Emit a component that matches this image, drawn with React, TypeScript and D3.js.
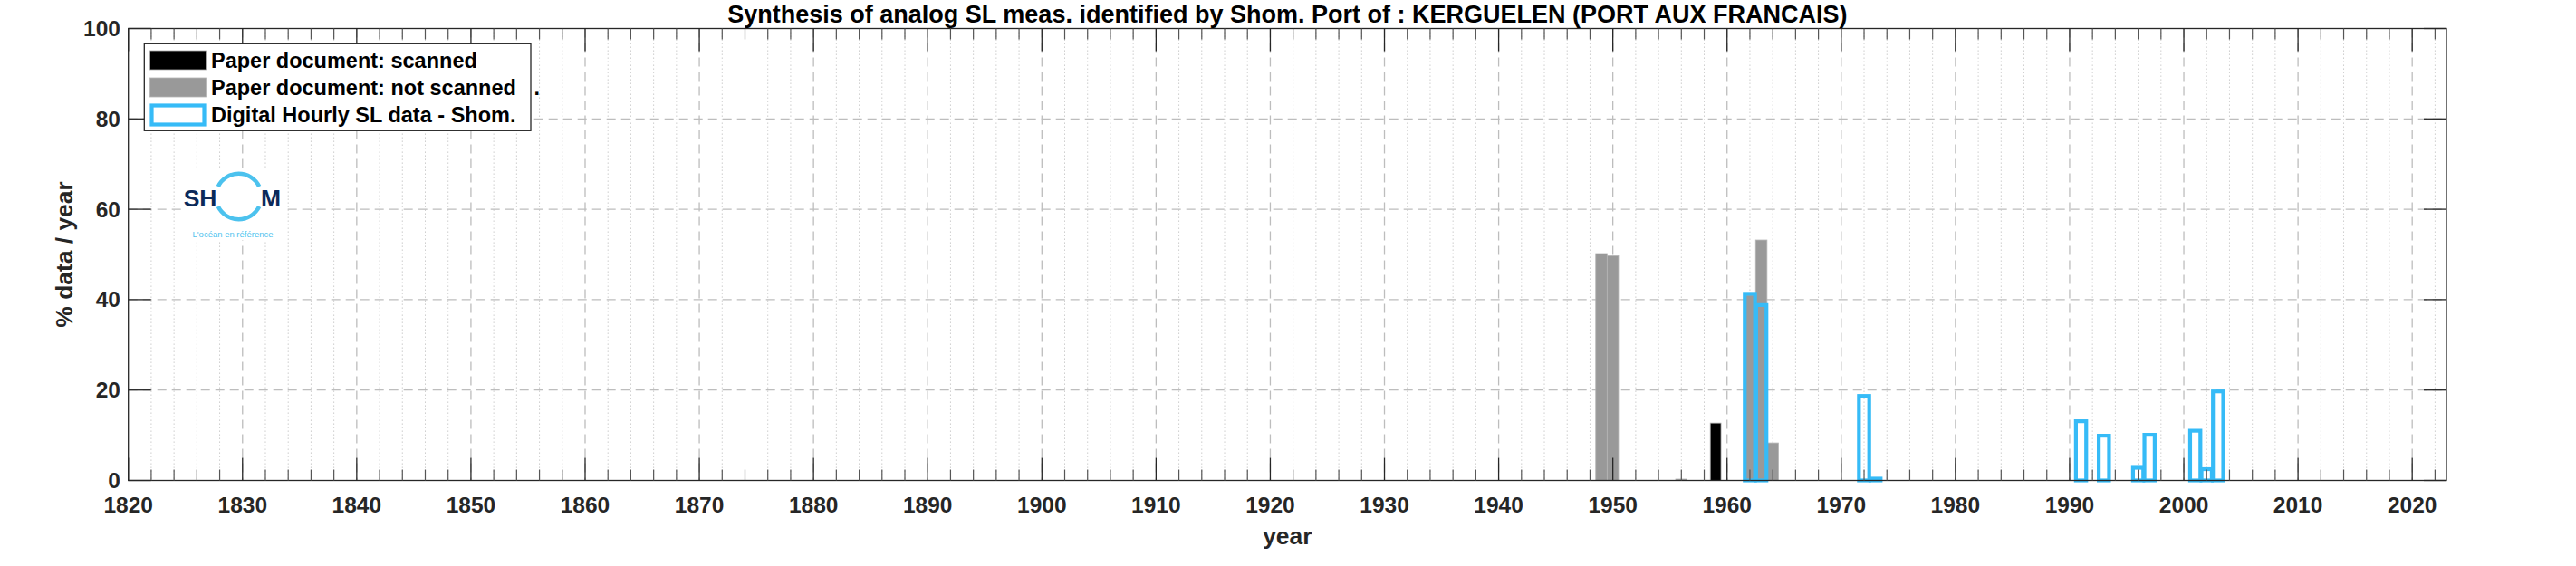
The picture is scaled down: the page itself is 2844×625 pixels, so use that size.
import React from "react";
import * as d3 from "d3";

const scannedYears = [1959];
const scannedValues = [12.7];

const notScannedYears = [1949, 1950, 1956, 1962, 1963, 1964];
const notScannedValues = [50.2, 49.7, 0.3, 41.0, 53.2, 8.3];

const digitalYears = [1962, 1963, 1972, 1973, 1991, 1993, 1996, 1997, 2001, 2002, 2003];
const digitalValues = [41.3, 38.8, 18.7, 0.4, 13.1, 9.9, 2.8, 10.1, 11.0, 2.5, 19.7];

const xMajorTicks = [1820, 1830, 1840, 1850, 1860, 1870, 1880, 1890, 1900, 1910, 1920, 1930, 1940, 1950, 1960, 1970, 1980, 1990, 2000, 2010, 2020];
const yMajorTicks = [0, 20, 40, 60, 80, 100];

const titleText = "Synthesis of analog SL meas. identified by Shom. Port of : KERGUELEN (PORT AUX FRANCAIS)";
const legendLabels = ["Paper document: scanned", "Paper document: not scanned   .", "Digital Hourly SL data - Shom."];

const W = 2844;
const H = 625;
const L = 141.7, R = 2701, T = 31.5, B = 530.5;
const FONT = "'Liberation Sans', Arial, Helvetica, sans-serif";
const TXT = "#262626";
const BLUE = "#36BBF7";
const GRAY = "#999999";

export default function App() {
  const x = d3.scaleLinear().domain([1820, 2023]).range([L, R]);
  const y = d3.scaleLinear().domain([0, 100]).range([B, T]);
  const yearW = x(1821) - x(1820);

  const minorX = d3.range(1822, 2023, 2).filter((v) => v % 10 !== 0);

  const ringArc = d3.arc();
  const cx = 263.5, cy = 217;
  const topArc = ringArc({ innerRadius: 23, outerRadius: 27.5, startAngle: (-64 * Math.PI) / 180, endAngle: (64 * Math.PI) / 180 }) as string;
  const botArc = ringArc({ innerRadius: 23, outerRadius: 27.5, startAngle: (116 * Math.PI) / 180, endAngle: (244 * Math.PI) / 180 }) as string;

  return (
    <div style={{ position: "absolute", left: 0, top: 0 }}>
      <svg width={W} height={H} style={{ display: "block", background: "#fff" }} fontFamily={FONT}>
        <rect x={0} y={0} width={W} height={H} fill="#fff" />
        {/* minor grid */}
        {minorX.map((v) => (
          <line key={"mg" + v} x1={x(v)} x2={x(v)} y1={T} y2={B} stroke="#c4c4c4" strokeWidth={1} strokeDasharray="1.3,2.7" />
        ))}
        {/* major grid */}
        {xMajorTicks.filter((v) => v !== 1820).map((v) => (
          <line key={"xg" + v} x1={x(v)} x2={x(v)} y1={T} y2={B} stroke="#bdbdbd" strokeWidth={1.3} strokeDasharray="10,6" />
        ))}
        {yMajorTicks.filter((v) => v !== 0 && v !== 100).map((v) => (
          <line key={"yg" + v} x1={L} x2={R} y1={y(v)} y2={y(v)} stroke="#bdbdbd" strokeWidth={1.3} strokeDasharray="10,6" />
        ))}

        {/* logo */}
        <rect x={200} y={187} width={115} height={78} fill="#fff" />
        <path d={topArc} transform={`translate(${cx},${cy})`} fill="#4cc2ee" />
        <path d={botArc} transform={`translate(${cx},${cy})`} fill="#4cc2ee" />
        <text x={239.5} y={227.5} textAnchor="end" fontSize={26.5} fontWeight="bold" fill="#0b2a5a">SH</text>
        <text x={288} y={227.5} textAnchor="start" fontSize={26.5} fontWeight="bold" fill="#0b2a5a">M</text>
        <text x={257} y={262} textAnchor="middle" fontSize={9.5} fill="#52c3ee">L'océan en référence</text>

        {/* bars */}
        {notScannedYears.map((yr, i) => (
          <rect key={"ns" + yr} x={x(yr) - yearW / 2} width={yearW} y={y(notScannedValues[i])} height={y(0) - y(notScannedValues[i])} fill={GRAY} stroke="#b5b5b5" strokeWidth={0.8} />
        ))}
        {scannedYears.map((yr, i) => (
          <rect key={"sc" + yr} x={x(yr) - yearW * 0.47} width={yearW * 0.94} y={y(scannedValues[i])} height={y(0) - y(scannedValues[i])} fill="#000" stroke="#b0b0b0" strokeWidth={0.8} />
        ))}
        {digitalYears.map((yr, i) => (
          <rect key={"dg" + yr} x={x(yr) - yearW * 0.45} width={yearW * 0.9} y={y(digitalValues[i])} height={y(0) - y(digitalValues[i])} fill="none" stroke={BLUE} strokeWidth={4.2} />
        ))}

        {/* axes box */}
        <rect x={L} y={T} width={R - L} height={B - T} fill="none" stroke={TXT} strokeWidth={1.3} />
        {/* x ticks */}
        {xMajorTicks.map((v) => (
          <g key={"xt" + v}>
            <line x1={x(v)} x2={x(v)} y1={B} y2={B - 25} stroke={TXT} strokeWidth={1.3} />
            <line x1={x(v)} x2={x(v)} y1={T} y2={T + 25} stroke={TXT} strokeWidth={1.3} />
            <text x={x(v)} y={566} textAnchor="middle" fontSize={24.5} fontWeight="bold" fill={TXT}>{v}</text>
          </g>
        ))}
        {minorX.map((v) => (
          <g key={"xm" + v}>
            <line x1={x(v)} x2={x(v)} y1={B} y2={B - 12} stroke="#555" strokeWidth={1.2} />
            <line x1={x(v)} x2={x(v)} y1={T} y2={T + 12} stroke="#555" strokeWidth={1.2} />
          </g>
        ))}
        {/* y ticks */}
        {yMajorTicks.map((v) => (
          <g key={"yt" + v}>
            <line x1={L} x2={L + 25} y1={y(v)} y2={y(v)} stroke={TXT} strokeWidth={1.3} />
            <line x1={R} x2={R - 25} y1={y(v)} y2={y(v)} stroke={TXT} strokeWidth={1.3} />
            <text x={133} y={y(v)} dy="0.35em" textAnchor="end" fontSize={24.5} fontWeight="bold" fill={TXT}>{v}</text>
          </g>
        ))}

        {/* labels */}
        <text x={(L + R) / 2} y={24.5} textAnchor="middle" fontSize={27} fontWeight="bold" fill="#000">{titleText}</text>
        <text x={(L + R) / 2} y={601} textAnchor="middle" fontSize={26.4} fontWeight="bold" fill={TXT}>year</text>
        <text transform={`translate(80,${(T + B) / 2}) rotate(-90)`} textAnchor="middle" fontSize={26.4} fontWeight="bold" fill={TXT}>% data / year</text>

        {/* legend */}
        <rect x={159.3} y={48.3} width={426.7} height={96} fill="#fff" stroke={TXT} strokeWidth={1.3} />
        <rect x={165.5} y={56} width={62} height={21} fill="#000" stroke="#b0b0b0" strokeWidth={0.8} />
        <rect x={165.5} y={86} width={62} height={21} fill={GRAY} stroke="#b5b5b5" strokeWidth={0.8} />
        <rect x={167.5} y={116.5} width={58} height={21} fill="none" stroke={BLUE} strokeWidth={4.2} />
        {legendLabels.map((t, i) => (
          <text key={"lg" + i} x={233} y={66.5 + i * 30.3} dy="0.35em" fontSize={23.5} fontWeight="bold" fill="#000" style={{ whiteSpace: "pre" }}>{t}</text>
        ))}
      </svg>
    </div>
  );
}
